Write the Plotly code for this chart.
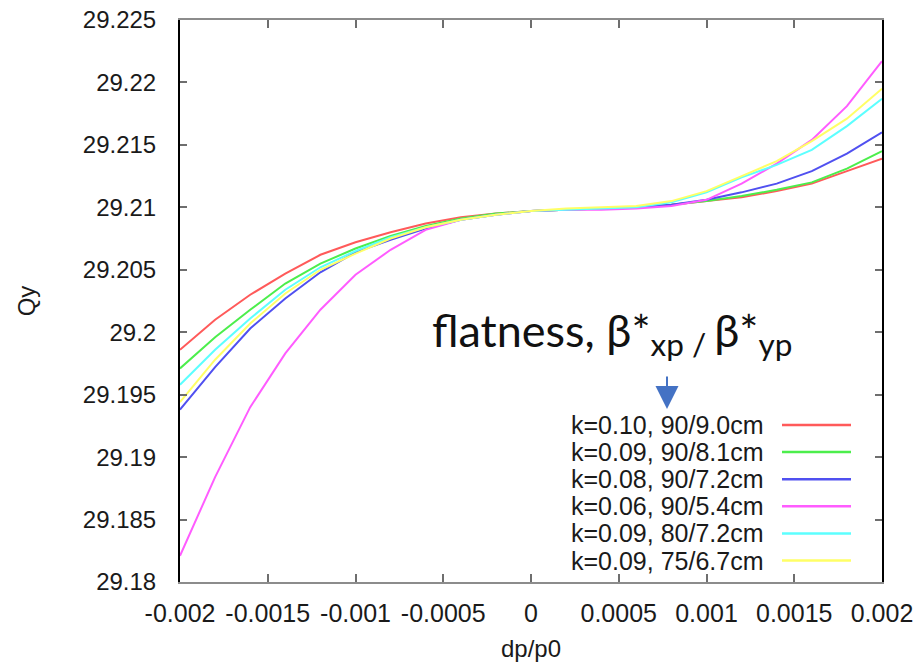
import plotly.graph_objects as go

# Momentum deviation grid
dp_p0 = [-0.002, -0.0018, -0.0016, -0.0014, -0.0012, -0.001, -0.0008, -0.0006,
         -0.0004, -0.0002, 0.0, 0.0002, 0.0004, 0.0006, 0.0008, 0.001, 0.0012,
         0.0014, 0.0016, 0.0018, 0.002]

# Vertical tune Qy for each optics configuration
qy_k010_90_90 = [29.1986, 29.2010, 29.2030, 29.2047, 29.2062, 29.2072, 29.2080, 29.2087,
                 29.2092, 29.2095, 29.2097, 29.2098, 29.2099, 29.2100, 29.2102, 29.2105,
                 29.2108, 29.2113, 29.2119, 29.2129, 29.2139]
qy_k009_90_81 = [29.1971, 29.1996, 29.2018, 29.2039, 29.2055, 29.2067, 29.2077, 29.2085,
                 29.2091, 29.2095, 29.2097, 29.2098, 29.2099, 29.2100, 29.2102, 29.2105,
                 29.2109, 29.2114, 29.2120, 29.2131, 29.2145]
qy_k008_90_72 = [29.1938, 29.1972, 29.2003, 29.2027, 29.2048, 29.2064, 29.2074, 29.2083,
                 29.2090, 29.2094, 29.2097, 29.2098, 29.2099, 29.2100, 29.2102, 29.2106,
                 29.2112, 29.2119, 29.2129, 29.2143, 29.2160]
qy_k006_90_54 = [29.1821, 29.1884, 29.1940, 29.1983, 29.2018, 29.2046, 29.2066, 29.2082,
                 29.2090, 29.2094, 29.2097, 29.2098, 29.2098, 29.2099, 29.2101, 29.2106,
                 29.2119, 29.2135, 29.2154, 29.2181, 29.2217]
qy_k009_80_72 = [29.1958, 29.1986, 29.2011, 29.2034, 29.2052, 29.2065, 29.2076, 29.2084,
                 29.2090, 29.2094, 29.2097, 29.2098, 29.2099, 29.2100, 29.2104, 29.2112,
                 29.2124, 29.2134, 29.2146, 29.2165, 29.2187]
qy_k009_75_67 = [29.1944, 29.1978, 29.2007, 29.2031, 29.2050, 29.2063, 29.2075, 29.2084,
                 29.2090, 29.2094, 29.2097, 29.2099, 29.2100, 29.2101, 29.2105, 29.2113,
                 29.2125, 29.2137, 29.2153, 29.2171, 29.2195]

series_names = ["k=0.10, 90/9.0cm", "k=0.09, 90/8.1cm", "k=0.08, 90/7.2cm",
                "k=0.06, 90/5.4cm", "k=0.09, 80/7.2cm", "k=0.09, 75/6.7cm"]
series_values = [qy_k010_90_90, qy_k009_90_81, qy_k008_90_72,
                 qy_k006_90_54, qy_k009_80_72, qy_k009_75_67]
series_colors = ["#ff5a5a", "#4cee4c", "#5050f0", "#ff5cff", "#5cffff", "#ffff66"]

x_tickvals = [-0.002, -0.0015, -0.001, -0.0005, 0, 0.0005, 0.001, 0.0015, 0.002]
x_ticktext = ["-0.002", "-0.0015", "-0.001", "-0.0005", "0", "0.0005", "0.001", "0.0015", "0.002"]
y_tickvals = [29.18, 29.185, 29.19, 29.195, 29.2, 29.205, 29.21, 29.215, 29.22, 29.225]
y_ticktext = ["29.18", "29.185", "29.19", "29.195", "29.2", "29.205", "29.21", "29.215", "29.22", "29.225"]

W, H = 924, 664
ML, MR, MT, MB = 180, 42, 20, 82

fig = go.Figure()
for name, vals, col in zip(series_names, series_values, series_colors):
    fig.add_trace(go.Scatter(x=dp_p0, y=vals, mode="lines", name=name,
                             line=dict(color=col, width=2), showlegend=False))

# Key drawn inside the plot, bottom right, tightly spaced rows
plot_w = W - ML - MR
plot_h = H - MT - MB
def px_to_paper_x(px):
    return (px - ML) / plot_w
def px_to_paper_y(py):
    return (H - MB - py) / plot_h

row_y0 = 425
row_step = 27.1
for i, (name, col) in enumerate(zip(series_names, series_colors)):
    yy = px_to_paper_y(row_y0 + i * row_step)
    fig.add_annotation(xref="paper", yref="paper", x=px_to_paper_x(765), y=yy,
                       text=name, showarrow=False, xanchor="right", yanchor="middle",
                       font=dict(family="Liberation Sans, Arial, sans-serif", size=25, color="#1a1a1a"))
    fig.add_shape(type="line", xref="paper", yref="paper",
                  x0=px_to_paper_x(782), x1=px_to_paper_x(851), y0=yy, y1=yy,
                  line=dict(color=col, width=2.5))

# Caption with arrow pointing at the key
fig.add_annotation(xref="paper", yref="paper", x=px_to_paper_x(430), y=px_to_paper_y(333),
                   text="flatness, β*<sub>xp / </sub>β*<sub>yp</sub>", showarrow=False,
                   xanchor="left", yanchor="middle",
                   font=dict(family="Lato, Carlito, Open Sans, sans-serif", size=45, color="#111111"))
fig.add_annotation(xref="paper", yref="paper", x=px_to_paper_x(667), y=px_to_paper_y(409),
                   ax=0, ay=-34, text="", showarrow=True, arrowhead=2, arrowsize=2.3,
                   arrowwidth=2, arrowcolor="#4472c4", standoff=0)

fig.update_layout(
    width=W, height=H,
    margin=dict(l=ML, r=MR, t=MT, b=MB),
    paper_bgcolor="white", plot_bgcolor="white",
    font=dict(family="Liberation Sans, Arial, sans-serif", color="#1a1a1a"),
    xaxis=dict(range=[-0.002, 0.002], tickvals=x_tickvals, ticktext=x_ticktext,
               ticks="inside", ticklen=8, tickwidth=1.5, tickcolor="#6e6e6e",
               showline=True, linecolor="#8c8c8c", linewidth=2, mirror="ticks",
               showgrid=False, zeroline=False, ticklabelstandoff=8,
               tickangle=0, automargin=False,
               tickfont=dict(family="Liberation Sans, Arial, sans-serif",
                             size=25, color="#1a1a1a"),
               title=dict(text="dp/p0", standoff=14,
                          font=dict(family="Liberation Sans, Arial, sans-serif", size=24, color="#1a1a1a"))),
    yaxis=dict(range=[29.18, 29.225], tickvals=y_tickvals, ticktext=y_ticktext,
               ticks="inside", ticklen=7, tickwidth=1.5, tickcolor="#6e6e6e",
               showline=True, linecolor="#000000", linewidth=2, mirror="ticks",
               showgrid=False, zeroline=False, ticklabelstandoff=17, automargin=False,
               tickfont=dict(family="Liberation Sans, Arial, sans-serif", size=24, color="#1a1a1a"),
               title=dict(text="Qy", standoff=40,
                          font=dict(family="Liberation Sans, Arial, sans-serif", size=24, color="#1a1a1a"))),
)

fig.write_html("out.html")
